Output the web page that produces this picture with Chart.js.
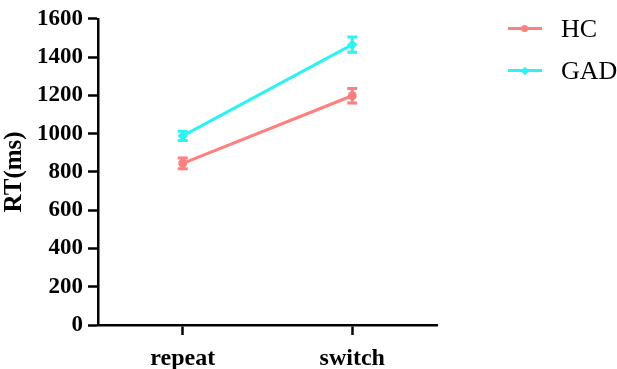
<!DOCTYPE html>
<html>
<head>
<meta charset="utf-8">
<script src="https://cdn.jsdelivr.net/npm/chart.js@4.4.0/dist/chart.umd.min.js"></script>
<style>
  html, body { margin: 0; padding: 0; background: #fff; }
  #wrap { position: relative; width: 617px; height: 369px; }
  #legend { position: absolute; left: 508px; top: 10px; font-family: 'Liberation Serif', 'Times New Roman', serif; font-size: 26px; color: #000; }
  .item { position: relative; height: 42px; line-height: 38px; padding-left: 53px; }
  .item .ln { position: absolute; left: 0; top: 17px; width: 34px; height: 3px; }
  .item .mk { position: absolute; left: 13px; top: 15px; width: 7px; height: 7px; border-radius: 50%; }
  .item .mk.dia { border-radius: 0; transform: rotate(45deg); width: 6px; height: 6px; left: 14px; top: 15.5px; }
</style>
</head>
<body>
<div id="wrap">
  <canvas id="chart" width="617" height="369"></canvas>
  <div id="legend"></div>
</div>
<script>
(function(){
  const categories = ['repeat', 'switch'];
  const hcMean = [845, 1198];
  const hcErr = [28, 38];
  const gadMean = [988, 1465];
  const gadErr = [24, 40];
  const yTicks = [0, 200, 400, 600, 800, 1000, 1200, 1400, 1600];

  const HC_COLOR = '#FF7F7F';
  const GAD_COLOR = '#2EF2F2';
  const FONT = "'Liberation Serif', 'Times New Roman', serif";

  const series = [
    { label: 'HC', mean: hcMean, err: hcErr, color: HC_COLOR, point: 'circle' },
    { label: 'GAD', mean: gadMean, err: gadErr, color: GAD_COLOR, point: 'rectRot' },
  ];

  // error bars drawn through the y scale
  const errorBars = {
    id: 'errorBars',
    afterDatasetsDraw(chart){
      const ctx = chart.ctx;
      const y = chart.scales.y;
      chart.data.datasets.forEach((ds, di)=>{
        const meta = chart.getDatasetMeta(di);
        const s = series[di];
        ctx.save();
        ctx.strokeStyle = s.color;
        ctx.lineWidth = 3;
        meta.data.forEach((pt, i)=>{
          const top = y.getPixelForValue(s.mean[i] + s.err[i]);
          const bot = y.getPixelForValue(s.mean[i] - s.err[i]);
          const x = pt.x;
          ctx.beginPath();
          ctx.moveTo(x, top); ctx.lineTo(x, bot);
          ctx.moveTo(x - 5, top); ctx.lineTo(x + 5, top);
          ctx.moveTo(x - 5, bot); ctx.lineTo(x + 5, bot);
          ctx.stroke();
        });
        ctx.restore();
      });
    }
  };

  new Chart(document.getElementById('chart'), {
    type: 'line',
    data: {
      labels: categories,
      datasets: series.map(s=>({
        label: s.label,
        data: s.mean,
        borderColor: s.color,
        backgroundColor: s.color,
        borderWidth: 3,
        pointStyle: s.point,
        pointRadius: 3,
        pointHoverRadius: 3,
      }))
    },
    options: {
      responsive: false,
      animation: false,
      events: [],
      layout: { padding: { top: 7, right: 180, left: 0, bottom: 0 } },
      plugins: { legend: { display: false }, tooltip: { enabled: false } },
      scales: {
        x: {
          offset: true,
          grid: { display: true, drawOnChartArea: false, tickLength: 10, tickWidth: 2.5, tickColor: '#000', offset: false },
          border: { display: true, color: '#000', width: 2.5 },
          ticks: { color: '#000', padding: 9, font: { family: FONT, size: 24, weight: 'bold' } },
          afterFit(scale){ scale.height = 44; }
        },
        y: {
          min: 0, max: 1600,
          afterBuildTicks(scale){ scale.ticks = yTicks.map(v=>({ value: v })); },
          grid: { display: true, drawOnChartArea: false, tickLength: 10, tickWidth: 2.5, tickColor: '#000' },
          border: { display: true, color: '#000', width: 2.5 },
          ticks: { color: '#000', padding: 5, callback: v => String(v), font: { family: FONT, size: 23, weight: 'bold' } },
          title: { display: true, text: 'RT(ms)', color: '#000', padding: { top: 0, bottom: 4 }, font: { family: FONT, size: 25, weight: 'bold' } },
          afterFit(scale){ scale.width = 98; }
        }
      }
    },
    plugins: [errorBars]
  });

  const legend = document.getElementById('legend');
  legend.innerHTML = series.map(s=>
    `<div class="item"><span class="ln" style="background:${s.color}"></span><span class="mk ${s.point === 'rectRot' ? 'dia' : ''}" style="background:${s.color}"></span>${s.label}</div>`
  ).join('');
})();
</script>
</body>
</html>
